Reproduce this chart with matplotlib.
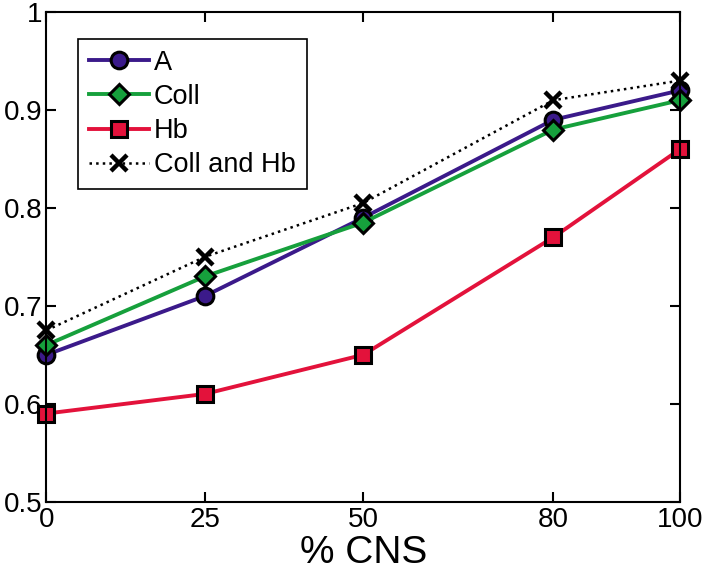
import matplotlib
matplotlib.use("Agg")
import matplotlib.pyplot as plt

plt.rcParams['font.family'] = ['Liberation Sans', 'DejaVu Sans']

cns = [0, 25, 50, 80, 100]
a_vals = [0.65, 0.71, 0.79, 0.89, 0.92]
coll_vals = [0.66, 0.73, 0.785, 0.88, 0.91]
hb_vals = [0.59, 0.61, 0.65, 0.77, 0.86]
coll_hb_vals = [0.675, 0.75, 0.805, 0.91, 0.93]

fig = plt.figure(figsize=(7.04, 5.74), dpi=100)
ax = fig.add_axes([0.066, 0.126, 0.9, 0.853])

ax.plot(cns, a_vals, color='#3b1a8a', lw=2.8, marker='o', ms=12,
        mfc='#3b1a8a', mec='black', mew=2.2, label='A', clip_on=False)
ax.plot(cns, coll_vals, color='#16a03c', lw=2.8, marker='D', ms=10,
        mfc='#16a03c', mec='black', mew=2.2, label='Coll', clip_on=False)
ax.plot(cns, hb_vals, color='#e3123b', lw=2.8, marker='s', ms=11,
        mfc='#e3123b', mec='black', mew=2.2, label='Hb', clip_on=False)
ax.plot(cns, coll_hb_vals, color='black', lw=1.8, ls=':', marker='x', ms=11,
        mew=3.2, label='Coll and Hb', clip_on=False)

ax.set_xlim(0, 100)
ax.set_ylim(0.5, 1)
ax.set_xticks(cns)
ax.set_xticklabels([str(c) for c in cns])
ax.set_yticks([0.5, 0.6, 0.7, 0.8, 0.9, 1])
ax.set_yticklabels(['0.5', '0.6', '0.7', '0.8', '0.9', '1'])
ax.tick_params(direction='in', top=True, right=True, length=7, width=1.5,
               labelsize=20, pad=2)
ax.tick_params(axis='x', pad=4)
ax.tick_params(axis='y', pad=3)
for s in ax.spines.values():
    s.set_linewidth(1.5)
ax.set_xlabel('% CNS', fontsize=28, labelpad=1)

leg = ax.legend(loc='upper left', bbox_to_anchor=(0.05, 0.945), fontsize=19.5,
                fancybox=False, framealpha=1, edgecolor='black',
                handlelength=2.2, borderpad=0.4, labelspacing=0.3,
                handletextpad=0.2, borderaxespad=0)
leg.get_frame().set_linewidth(1.2)

fig.savefig('out.png', dpi=100)
